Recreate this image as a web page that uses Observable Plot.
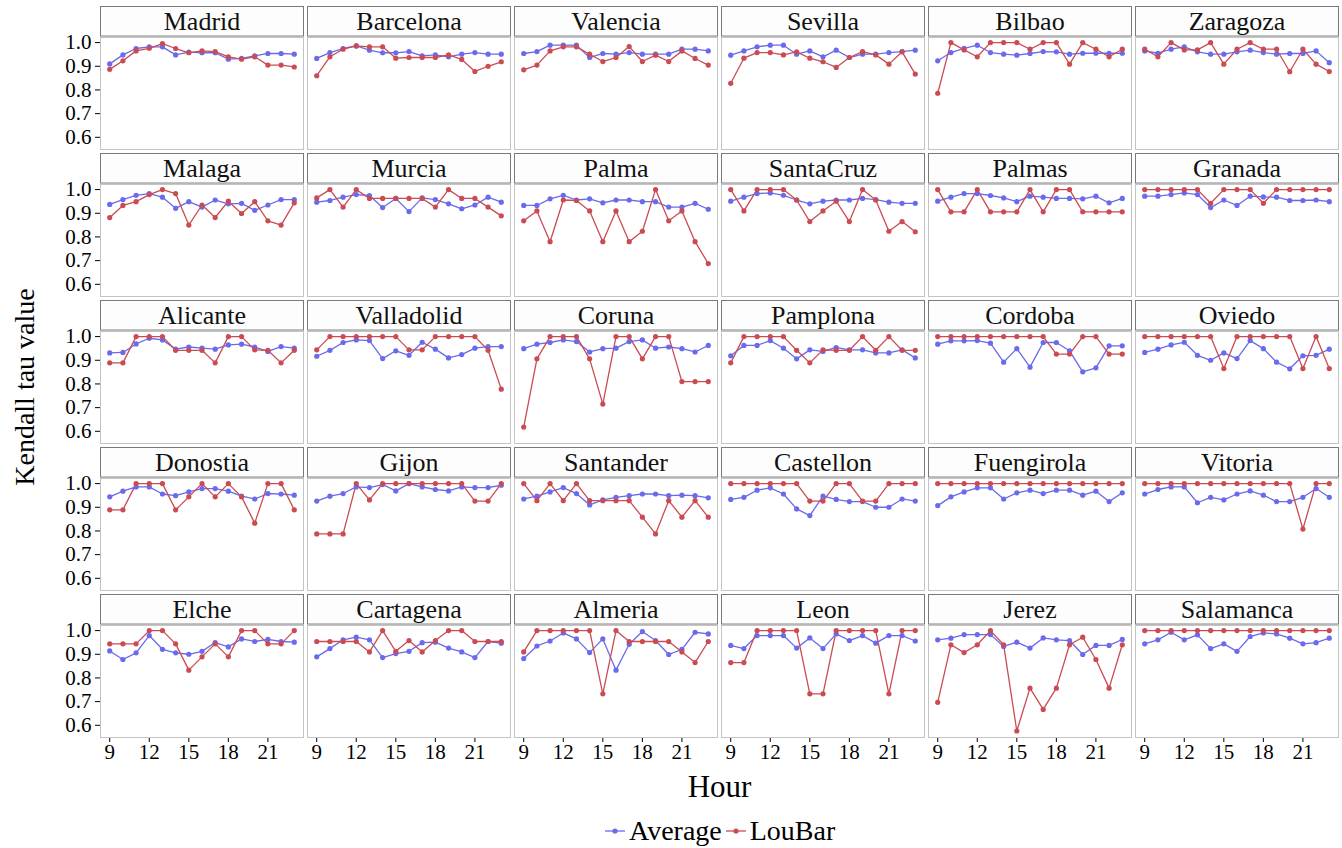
<!DOCTYPE html>
<html>
<head>
<meta charset="utf-8">
<script src="https://cdn.jsdelivr.net/npm/d3@7"></script>
<script src="https://cdn.jsdelivr.net/npm/@observablehq/plot@0.6"></script>
<style>
  body { margin: 0; background: #fff; }
  #wrap { position: relative; width: 1342px; height: 848px; font-family: "Liberation Serif", "Times New Roman", serif; }
  #wrap svg text { font-family: "Liberation Serif", "Times New Roman", serif; }
  #legend { position: absolute; left: 604px; top: 815px; display: flex; align-items: center; font-size: 28px; font-family: "Liberation Serif", "Times New Roman", serif; }
  #legend .item { display: flex; align-items: center; margin-right: 3px; }
  #legend svg { margin-right: 3px; }
</style>
</head>
<body>
<div id="wrap"></div>
<script>
const cities = ["Madrid","Barcelona","Valencia","Sevilla","Bilbao","Zaragoza",
  "Malaga","Murcia","Palma","SantaCruz","Palmas","Granada",
  "Alicante","Valladolid","Coruna","Pamplona","Cordoba","Oviedo",
  "Donostia","Gijon","Santander","Castellon","Fuengirola","Vitoria",
  "Elche","Cartagena","Almeria","Leon","Jerez","Salamanca"];
const hours = [9,10,11,12,13,14,15,16,17,18,19,20,21,22,23];
const seriesNames = ["Average","LouBar"];
const seriesColors = ["#6a6aec","#cb4b52"];
const yTicks = [0.6,0.7,0.8,0.9,1.0];
const xTicks = [9,12,15,18,21];

const averageValues = [
  [0.91,0.948,0.975,0.982,0.982,0.948,0.96,0.957,0.957,0.93,0.933,0.944,0.954,0.954,0.951], // Madrid
  [0.933,0.958,0.975,0.986,0.968,0.957,0.957,0.962,0.944,0.948,0.94,0.951,0.958,0.951,0.951], // Barcelona
  [0.954,0.962,0.989,0.989,0.989,0.937,0.954,0.951,0.958,0.951,0.951,0.951,0.972,0.972,0.965], // Valencia
  [0.947,0.965,0.982,0.989,0.989,0.951,0.965,0.94,0.968,0.937,0.951,0.951,0.958,0.962,0.968], // Sevilla
  [0.923,0.958,0.976,0.989,0.958,0.951,0.947,0.954,0.962,0.961,0.951,0.955,0.955,0.955,0.955], // Bilbao
  [0.965,0.955,0.972,0.982,0.961,0.951,0.951,0.961,0.968,0.958,0.951,0.954,0.954,0.965,0.915], // Zaragoza
  [0.9375,0.958,0.976,0.983,0.968,0.921,0.949,0.926,0.956,0.94,0.942,0.9125,0.935,0.958,0.958], // Malaga
  [0.947,0.954,0.968,0.979,0.975,0.924,0.9625,0.907,0.965,0.958,0.94,0.919,0.935,0.968,0.947], // Murcia
  [0.933,0.933,0.961,0.976,0.956,0.961,0.944,0.956,0.956,0.949,0.949,0.926,0.926,0.942,0.917], // Palma
  [0.951,0.968,0.983,0.986,0.976,0.956,0.94,0.951,0.956,0.956,0.9625,0.958,0.947,0.942,0.942], // SantaCruz
  [0.951,0.968,0.983,0.983,0.975,0.965,0.949,0.972,0.968,0.9625,0.9625,0.961,0.972,0.944,0.9625], // Palmas
  [0.972,0.972,0.979,0.986,0.979,0.924,0.956,0.933,0.972,0.969,0.968,0.954,0.954,0.956,0.949], // Granada
  [0.931,0.933,0.969,0.993,0.986,0.947,0.956,0.951,0.947,0.965,0.968,0.956,0.9375,0.958,0.951], // Alicante
  [0.917,0.942,0.975,0.986,0.983,0.907,0.94,0.921,0.976,0.947,0.91,0.924,0.951,0.958,0.958], // Valladolid
  [0.949,0.968,0.975,0.986,0.979,0.935,0.949,0.951,0.979,0.986,0.951,0.956,0.949,0.935,0.9625], // Coruna
  [0.919,0.9625,0.9625,0.983,0.951,0.906,0.944,0.9375,0.954,0.944,0.944,0.931,0.931,0.944,0.91], // Pamplona
  [0.968,0.982,0.982,0.983,0.972,0.892,0.949,0.871,0.975,0.975,0.94,0.851,0.868,0.961,0.961], // Cordoba
  [0.933,0.947,0.965,0.976,0.921,0.9,0.931,0.907,0.983,0.949,0.892,0.864,0.919,0.921,0.947], // Oviedo
  [0.944,0.968,0.986,0.986,0.956,0.949,0.965,0.979,0.979,0.968,0.947,0.935,0.958,0.956,0.951], // Donostia
  [0.926,0.947,0.958,0.986,0.983,0.996,0.969,1.0,0.986,0.975,0.969,0.986,0.983,0.983,0.993], // Gijon
  [0.935,0.947,0.965,0.983,0.958,0.91,0.931,0.942,0.949,0.956,0.956,0.949,0.951,0.949,0.94], // Santander
  [0.933,0.942,0.972,0.982,0.956,0.893,0.865,0.947,0.933,0.924,0.924,0.9,0.9,0.935,0.926], // Castellon
  [0.907,0.944,0.965,0.982,0.982,0.935,0.961,0.972,0.958,0.972,0.972,0.951,0.968,0.924,0.961], // Fuengirola
  [0.956,0.975,0.986,0.986,0.919,0.942,0.931,0.956,0.969,0.951,0.924,0.924,0.942,0.979,0.942], // Vitoria
  [0.914,0.878,0.906,0.979,0.921,0.906,0.9,0.9125,0.949,0.931,0.965,0.954,0.9625,0.954,0.951], // Elche
  [0.889,0.924,0.961,0.972,0.961,0.886,0.903,0.9125,0.949,0.951,0.926,0.91,0.886,0.954,0.947], // Cartagena
  [0.882,0.935,0.956,0.99,0.965,0.907,0.965,0.833,0.942,0.996,0.958,0.899,0.921,0.993,0.986], // Almeria
  [0.9375,0.924,0.979,0.979,0.979,0.926,0.969,0.924,0.986,0.958,0.979,0.947,0.979,0.979,0.956], // Leon
  [0.961,0.968,0.983,0.983,0.983,0.933,0.951,0.926,0.969,0.961,0.958,0.899,0.9375,0.9375,0.9625], // Jerez
  [0.944,0.961,0.993,0.961,0.982,0.924,0.944,0.9125,0.975,0.99,0.986,0.968,0.944,0.949,0.968]  // Salamanca
];

const loubarValues = [
  [0.887,0.923,0.965,0.976,0.996,0.975,0.957,0.965,0.962,0.94,0.93,0.94,0.905,0.905,0.897], // Madrid
  [0.86,0.94,0.972,0.986,0.982,0.982,0.934,0.937,0.937,0.937,0.948,0.929,0.878,0.9,0.919], // Barcelona
  [0.885,0.905,0.965,0.982,0.982,0.951,0.92,0.937,0.983,0.92,0.947,0.92,0.965,0.933,0.905], // Valencia
  [0.828,0.934,0.958,0.958,0.948,0.961,0.934,0.919,0.895,0.937,0.962,0.948,0.909,0.961,0.867], // Sevilla
  [0.786,1.0,0.969,0.94,1.0,1.0,1.0,0.972,1.0,1.0,0.909,1.0,0.972,0.94,0.972], // Bilbao
  [0.972,0.94,1.0,0.969,0.969,1.0,0.909,0.972,1.0,0.972,0.972,0.877,0.972,0.909,0.878], // Zaragoza
  [0.882,0.933,0.949,0.979,1.0,0.983,0.85,0.935,0.882,0.951,0.899,0.949,0.868,0.85,0.944], // Malaga
  [0.965,1.0,0.926,1.0,0.9625,0.9625,0.9625,0.9625,0.9625,0.926,1.0,0.9625,0.9625,0.926,0.889], // Murcia
  [0.868,0.91,0.78,0.956,0.954,0.91,0.78,0.91,0.78,0.824,1.0,0.868,0.91,0.78,0.6875], // Palma
  [1.0,0.91,1.0,1.0,1.0,0.956,0.865,0.91,0.951,0.865,1.0,0.956,0.824,0.865,0.822], // SantaCruz
  [1.0,0.906,0.906,1.0,0.906,0.906,0.906,1.0,0.906,1.0,1.0,0.906,0.906,0.906,0.906], // Palmas
  [1.0,1.0,1.0,1.0,1.0,0.942,1.0,1.0,1.0,0.942,1.0,1.0,1.0,1.0,1.0], // Granada
  [0.889,0.889,1.0,1.0,1.0,0.942,0.942,0.942,0.889,1.0,1.0,0.944,0.942,0.889,0.942], // Alicante
  [0.944,1.0,1.0,1.0,1.0,1.0,1.0,0.944,0.944,1.0,1.0,1.0,1.0,0.942,0.778], // Valladolid
  [0.618,0.906,1.0,1.0,1.0,0.906,0.715,1.0,1.0,0.906,1.0,1.0,0.81,0.81,0.81], // Coruna
  [0.889,1.0,1.0,1.0,1.0,0.942,0.889,0.944,0.942,0.942,1.0,0.942,1.0,0.942,0.942], // Pamplona
  [1.0,1.0,1.0,1.0,1.0,1.0,1.0,1.0,1.0,0.926,0.926,1.0,1.0,0.926,0.926], // Cordoba
  [1.0,1.0,1.0,1.0,1.0,1.0,0.865,1.0,1.0,1.0,1.0,1.0,0.865,1.0,0.865], // Oviedo
  [0.889,0.889,1.0,1.0,1.0,0.889,0.944,1.0,0.944,1.0,0.944,0.833,1.0,1.0,0.889], // Donostia
  [0.7875,0.7875,0.7875,1.0,0.931,1.0,1.0,1.0,1.0,1.0,1.0,1.0,0.926,0.926,1.0], // Gijon
  [1.0,0.928,1.0,0.928,1.0,0.928,0.928,0.928,0.928,0.858,0.7875,0.928,0.858,0.928,0.858], // Santander
  [1.0,1.0,1.0,1.0,1.0,1.0,0.926,0.926,1.0,1.0,0.926,0.926,1.0,1.0,1.0], // Castellon
  [1.0,1.0,1.0,1.0,1.0,1.0,1.0,1.0,1.0,1.0,1.0,1.0,1.0,1.0,1.0], // Fuengirola
  [1.0,1.0,1.0,1.0,1.0,1.0,1.0,1.0,1.0,1.0,1.0,1.0,0.808,1.0,1.0], // Vitoria
  [0.944,0.944,0.944,1.0,1.0,0.944,0.833,0.889,0.944,0.889,1.0,1.0,0.944,0.944,1.0], // Elche
  [0.954,0.954,0.954,0.954,0.91,1.0,0.9125,0.958,0.91,0.958,1.0,1.0,0.954,0.954,0.954], // Cartagena
  [0.91,1.0,1.0,1.0,1.0,1.0,0.733,1.0,0.954,0.954,0.954,0.954,0.91,0.865,0.954], // Almeria
  [0.865,0.865,1.0,1.0,1.0,1.0,0.733,0.733,1.0,1.0,1.0,1.0,0.733,1.0,1.0], // Leon
  [0.697,0.94,0.907,0.94,1.0,0.94,0.576,0.757,0.667,0.757,0.94,0.972,0.878,0.757,0.94], // Jerez
  [1.0,1.0,1.0,1.0,1.0,1.0,1.0,1.0,1.0,1.0,1.0,1.0,1.0,1.0,1.0]  // Salamanca
];

// Build long-form table
const NCOL = 6;
const cityRows = cities.map((c, i) => ({city: c, col: i % NCOL, row: Math.floor(i / NCOL)}));
const rows = [];
cities.forEach((c, i) => {
  const col = i % NCOL, row = Math.floor(i / NCOL);
  [averageValues, loubarValues].forEach((vals, s) => {
    hours.forEach((h, j) => rows.push({city: c, col, row, series: seriesNames[s], hour: h, value: vals[i][j]}));
  });
});

const W = 1342, H = 800;
const mT = 36, mB = 62, mL = 98, mR = 1;
const padY = 0.237, padX = 0.0193;
const stepY = (H - mT - mB) / (5 - padY);
const bandY = stepY * (1 - padY);
const stripH = 30;

const fontFamily = "'Liberation Serif', 'Times New Roman', serif";

const chart = Plot.plot({
  width: W, height: H,
  marginTop: mT, marginBottom: mB, marginLeft: mL, marginRight: mR,
  style: {fontFamily, fontSize: "21px", background: "white", color: "#000", overflow: "visible"},
  fx: {axis: null, domain: d3.range(6), paddingInner: padX, paddingOuter: 0},
  fy: {axis: null, domain: d3.range(5), paddingInner: padY, paddingOuter: 0},
  x: {domain: [8.3, 23.7], ticks: xTicks, tickSize: 5, tickPadding: 2, label: null},
  y: {domain: [0.5485, 1.0215], ticks: yTicks, tickFormat: d3.format(".1f"), tickSize: 5, tickPadding: 4, label: null},
  color: {domain: seriesNames, range: seriesColors},
  marks: [
    Plot.frame({fill: "white", stroke: "#c4c4c4"}),
    Plot.frame({insetTop: -(stripH + 1), insetBottom: bandY + 1, fill: "#fdfdfd", stroke: "#7a7a7a"}),
    Plot.text(cityRows, {fx: "col", fy: "row", text: "city", frameAnchor: "top", lineAnchor: "middle", dy: -(stripH / 2 + 1), fontSize: 26, fill: "#111"}),
    Plot.line(rows, {fx: "col", fy: "row", x: "hour", y: "value", z: "series", stroke: "series", strokeWidth: 1.3}),
    Plot.dot(rows, {fx: "col", fy: "row", x: "hour", y: "value", fill: "series", r: 2.6, stroke: "none"})
  ]
});

const svg = d3.select(chart);
svg.append("text")
  .attr("x", mL + (W - mL - mR) / 2).attr("y", 797)
  .attr("text-anchor", "middle")
  .style("font-family", fontFamily).style("font-size", "31px")
  .text("Hour");
svg.append("text")
  .attr("transform", `translate(34,${mT + (H - mT - mB) / 2}) rotate(-90)`)
  .attr("text-anchor", "middle")
  .style("font-family", fontFamily).style("font-size", "28px")
  .text("Kendall tau value");

const wrap = document.getElementById("wrap");
wrap.appendChild(chart);

// Legend
const legend = document.createElement("div");
legend.id = "legend";
seriesNames.forEach((name, i) => {
  const item = document.createElement("div");
  item.className = "item";
  const sw = d3.create("svg").attr("width", 22).attr("height", 14);
  sw.append("line").attr("x1", 1).attr("x2", 21).attr("y1", 7).attr("y2", 7).attr("stroke", seriesColors[i]).attr("stroke-width", 1.3);
  sw.append("circle").attr("cx", 11).attr("cy", 7).attr("r", 2.6).attr("fill", seriesColors[i]);
  item.appendChild(sw.node());
  const label = document.createElement("span");
  label.textContent = name;
  item.appendChild(label);
  legend.appendChild(item);
});
wrap.appendChild(legend);
</script>
</body>
</html>
